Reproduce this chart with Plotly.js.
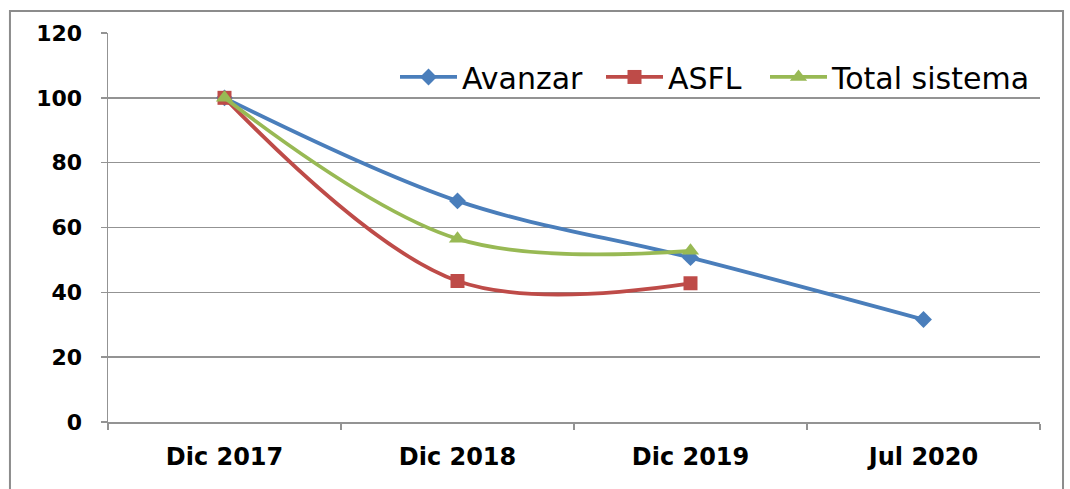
<!DOCTYPE html>
<html>
<head>
<meta charset="utf-8">
<script src="https://cdn.plot.ly/plotly-3.0.1.min.js"></script>
<style>html,body{margin:0;padding:0;background:#fff;}#chart{width:1070px;height:489px;}</style>
</head>
<body>
<div id="chart"></div>
<script>
const categories = ["Dic 2017", "Dic 2018", "Dic 2019", "Jul 2020"];
const avanzar = [100, 68.2, 50.7, 31.6];
const asfl = [100, 43.5, 42.8, null];
const totalSistema = [100, 56.5, 52.8, null];
const yTicks = [0, 20, 40, 60, 80, 100, 120];

const traces = [
  {x: categories, y: avanzar, name: "Avanzar", type: "scatter", mode: "lines+markers", legend: "legend",
   line: {color: "#4A7EBB", width: 3.8, shape: "spline", smoothing: 1},
   marker: {symbol: "diamond", size: 13, color: "#4A7EBB"}},
  {x: categories, y: asfl, name: "ASFL", type: "scatter", mode: "lines+markers", legend: "legend2",
   line: {color: "#BE4B48", width: 3.8, shape: "spline", smoothing: 1},
   marker: {symbol: "square", size: 14, color: "#BE4B48"}},
  {x: categories, y: totalSistema, name: "Total sistema", type: "scatter", mode: "lines+markers", legend: "legend3",
   line: {color: "#98B954", width: 3.8, shape: "spline", smoothing: 1},
   marker: {symbol: "triangle-up", size: 15, color: "#98B954"}}
];

function legendAt(px) {
  return {orientation: "h", x: (px - 108) / 932, xanchor: "left", y: 0.887, yanchor: "middle",
          font: {family: "DejaVu Sans, sans-serif", size: 30, color: "#000"},
          bgcolor: "rgba(0,0,0,0)", itemwidth: 57, borderwidth: 0};
}

const layout = {
  width: 1070, height: 489,
  margin: {l: 108, r: 30, t: 33, b: 67},
  paper_bgcolor: "#fff", plot_bgcolor: "#fff",
  showlegend: true,
  legend: legendAt(395),
  legend2: legendAt(601),
  legend3: legendAt(765),
  xaxis: {type: "category", categoryorder: "array", categoryarray: categories,
          range: [-0.5, 3.5], tickson: "boundaries", ticks: "outside", ticklen: 6,
          tickcolor: "#939393", tickwidth: 1.5, showgrid: false, showline: true,
          linecolor: "#939393", linewidth: 1.5, zeroline: false, ticklabelstandoff: 13,
          tickfont: {family: "DejaVu Sans, sans-serif", size: 24, color: "#000", weight: "bold"}},
  yaxis: {range: [0, 120], tickvals: yTicks, ticks: "outside", ticklen: 6,
          tickcolor: "#939393", tickwidth: 1.5, showgrid: true, gridcolor: "#939393",
          gridwidth: 1.5, showline: true, linecolor: "#939393", linewidth: 1.5,
          zeroline: false, ticklabelstandoff: 14,
          tickfont: {family: "DejaVu Sans, sans-serif", size: 22, color: "#000", weight: "bold"}},
  shapes: [{type: "rect", xref: "paper", yref: "paper", x0: -0.1052, x1: 1.0247, y0: -0.25, y1: 1.0566,
            line: {color: "#8c8c8c", width: 2}, fillcolor: "rgba(0,0,0,0)"}]
};

Plotly.newPlot("chart", traces, layout, {displayModeBar: false, staticPlot: true});
</script>
</body>
</html>
